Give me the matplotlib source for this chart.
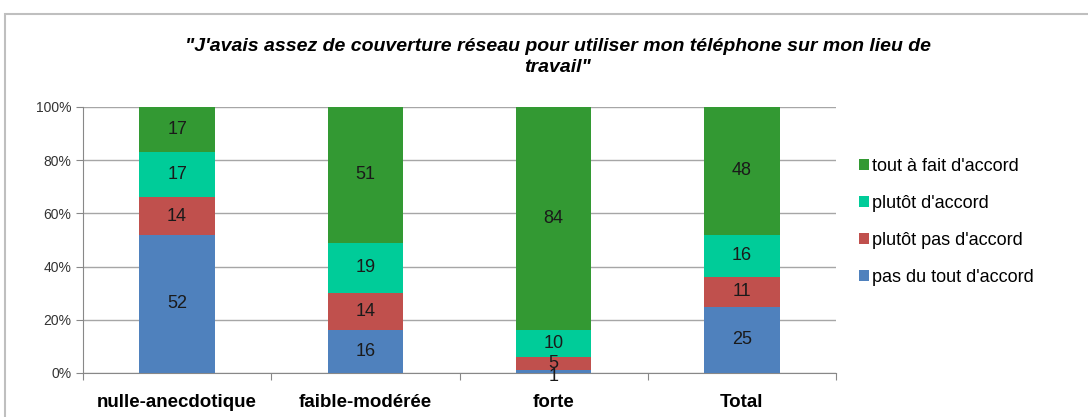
import matplotlib
matplotlib.use("Agg")
import matplotlib.pyplot as plt
from matplotlib.patches import Rectangle
import numpy as np

plt.rcParams["font.family"] = ["Liberation Sans", "DejaVu Sans"]

categories = ["nulle-anecdotique", "faible-modérée", "forte", "Total"]
series_names = ["pas du tout d'accord", "plutôt pas d'accord",
                "plutôt d'accord", "tout à fait d'accord"]
pas_du_tout = [52, 16, 1, 25]
plutot_pas = [14, 14, 5, 11]
plutot = [17, 19, 10, 16]
tout_a_fait = [17, 51, 84, 48]
colours = ["#4F81BD", "#C0504D", "#00CC99", "#339933"]
title = "\"J'avais assez de couverture réseau pour utiliser mon téléphone sur mon lieu de\ntravail\""

fig = plt.figure(figsize=(10.88, 4.17), dpi=100)
fig.patches.append(Rectangle((5 / 1088, -0.05), 1.2, 1 - 14 / 417 + 0.05,
                             transform=fig.transFigure, fill=False,
                             edgecolor="#BFBFBF", lw=1.5, zorder=0))
ax = fig.add_axes([83 / 1088, 1 - 373 / 417, (836 - 83) / 1088, (373 - 107) / 417])

x = np.arange(len(categories)) + 0.5
data = np.array([pas_du_tout, plutot_pas, plutot, tout_a_fait], dtype=float)
bottom = np.zeros(len(categories))
handles = []
for vals, name, col in zip(data, series_names, colours):
    h = ax.bar(x, vals, 0.40, bottom=bottom, color=col, label=name, zorder=3)
    handles.append(h)
    for xi, b, v in zip(x, bottom, vals):
        # the tiny "1" slice sits just under its neighbour, as in the original
        y = b + v / 2 if v >= 3 else b - 1.5
        ax.text(xi, y, f"{int(v)}", ha="center", va="center",
                fontsize=13, color="#1a1a1a", zorder=4)
    bottom += vals

ax.set_xlim(0, 4)
ax.set_ylim(0, 100)
ax.set_yticks(np.arange(0, 101, 20))
ax.set_yticklabels([f"{v}%" for v in range(0, 101, 20)], fontsize=10, color="#333333")
ax.set_xticks(np.arange(0, 5))
ax.set_xticklabels([])
ax.set_xticks(x, minor=True)
ax.set_xticklabels(categories, minor=True, fontsize=13.5, fontweight="bold")
ax.tick_params(axis="x", which="minor", length=0, pad=15)
ax.tick_params(axis="x", which="major", length=5, color="#888888")
ax.tick_params(axis="y", length=5, color="#888888")
ax.yaxis.grid(True, color="#A6A6A6", lw=1.0, zorder=0)
for side in ["top", "right"]:
    ax.spines[side].set_visible(False)
ax.spines["left"].set_color("#888888")
ax.spines["bottom"].set_color("#888888")

fig.text(558 / 1088, 1 - 57 / 417, title, ha="center", va="center",
         fontsize=14, fontweight="bold", fontstyle="italic", linespacing=1.3)

ax.legend(handles[::-1], series_names[::-1], loc="center left",
          bbox_to_anchor=(843 / 1088, 1 - 222 / 417), bbox_transform=fig.transFigure,
          frameon=False, fontsize=13, handlelength=0.55, handleheight=0.55,
          handletextpad=0.15, labelspacing=1.1)

fig.savefig("out.png", dpi=100)
